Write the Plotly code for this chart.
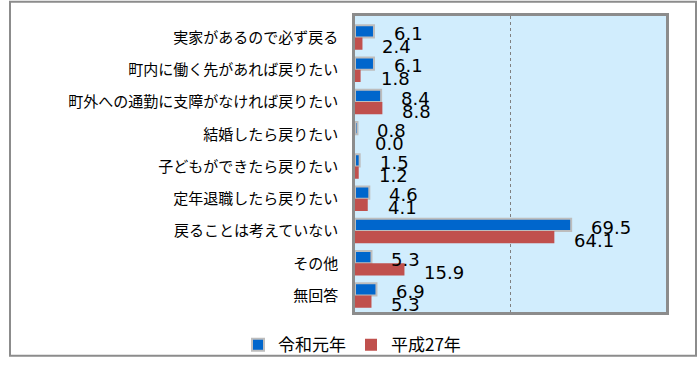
import plotly.graph_objects as go

categories = [
    "実家があるので必ず戻る",
    "町内に働く先があれば戻りたい",
    "町外への通勤に支障がなければ戻りたい",
    "結婚したら戻りたい",
    "子どもができたら戻りたい",
    "定年退職したら戻りたい",
    "戻ることは考えていない",
    "その他",
    "無回答",
]
reiwa1 = [6.1, 6.1, 8.4, 0.8, 1.5, 4.6, 69.5, 5.3, 6.9]
heisei27 = [2.4, 1.8, 8.8, 0.0, 1.2, 4.1, 64.1, 15.9, 5.3]
series_names = ["令和元年", "平成27年"]

W, H = 697, 375
L, R, T, B = 355, 31, 16, 47
pw, ph = W - L - R, H - T - B

fig = go.Figure()
fig.add_trace(go.Bar(
    y=categories, x=reiwa1, name=series_names[0], orientation="h",
    marker=dict(color="#0066CC", line=dict(color="#BDBDBD", width=2)),
))
fig.add_trace(go.Bar(
    y=categories, x=heisei27, name=series_names[1], orientation="h",
    marker=dict(color="#C0504D", line=dict(width=0)),
))

label_font = dict(family="DejaVu Sans", size=18, color="#000000")
annotations = []
for cat, a, b in zip(categories, reiwa1, heisei27):
    annotations.append(dict(x=a, y=cat, xref="x", yref="y", text=f"{a:.1f}",
                            showarrow=False, xanchor="left", yanchor="middle",
                            xshift=18, yshift=4, font=label_font))
    annotations.append(dict(x=b, y=cat, xref="x", yref="y", text=f"{b:.1f}",
                            showarrow=False, xanchor="left", yanchor="middle",
                            xshift=18, yshift=-9, font=label_font))

# outer chart frame
shapes = [dict(type="rect", xref="paper", yref="paper",
               x0=(10 - L) / pw, x1=(696 - L) / pw,
               y0=-(374 - (H - B)) / ph, y1=((H - B) - 1) / ph,
               line=dict(color="#8C8C8C", width=2), fillcolor="rgba(0,0,0,0)",
               layer="below")]

fig.update_layout(
    width=W, height=H,
    margin=dict(l=L, r=R, t=T, b=B),
    paper_bgcolor="#FFFFFF",
    plot_bgcolor="#D1EDFD",
    barmode="group", bargap=0.24, bargroupgap=0.0,
    font=dict(family="Noto Sans CJK JP", size=15, color="#000000"),
    showlegend=True,
    legend=dict(orientation="h", x=(352 - L) / pw, xanchor="center",
                y=-(344 - (H - B)) / ph, yanchor="top",
                bgcolor="rgba(0,0,0,0)",
                font=dict(family="Noto Sans CJK JP", size=17), itemwidth=30,
                traceorder="normal"),
    annotations=annotations,
    shapes=shapes,
    xaxis=dict(range=[0, 100], tickvals=[50], showticklabels=False, ticks="",
               showgrid=True, gridcolor="#808080", griddash="dot", gridwidth=1,
               zeroline=False, showline=True, linecolor="#8C8C8C", linewidth=2.5,
               mirror=True, fixedrange=True),
    yaxis=dict(autorange="reversed", ticks="", showgrid=False, zeroline=False,
               showline=True, linecolor="#8C8C8C", linewidth=2.5, mirror=True,
               ticklabelstandoff=11, tickfont=dict(family="Noto Sans CJK JP", size=15)),
)

fig.write_html("out.html")
